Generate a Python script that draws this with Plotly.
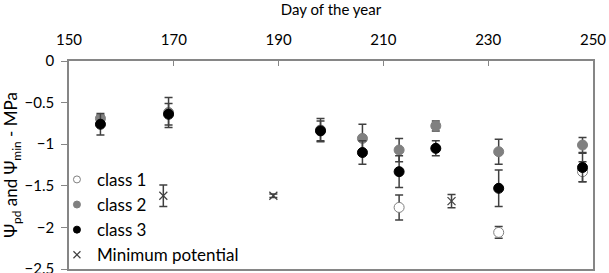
import plotly.graph_objects as go

days = [156, 169, 198, 206, 213, 220, 232, 248]
class2 = [-0.69, -0.62, -0.83, -0.93, -1.07, -0.78, -1.09, -1.01]
class2_err = [0.04, 0.18, 0.14, 0.17, 0.14, 0.06, 0.15, 0.09]
class3 = [-0.76, -0.64, -0.84, -1.10, -1.33, -1.05, -1.53, -1.28]
class3_err = [0.13, 0.13, 0.12, 0.14, 0.19, 0.09, 0.22, 0.17]
class1_days = [213, 232, 248]
class1 = [-1.76, -2.06, -1.33]
class1_err = [0.15, 0.07, 0.12]
min_days = [168, 189, 223]
min_pot = [-1.62, -1.62, -1.685]
min_err = [0.13, 0.02, 0.08]

FONT = "Lato, Open Sans, sans-serif"
ERRC = "#404040"

def eb(arr):
    return dict(type="data", array=arr, visible=True, color=ERRC, thickness=1.5, width=4)

styles = {
    "class 1": dict(symbol="circle", color="white", line=dict(color="#7f7f7f", width=1)),
    "class 2": dict(symbol="circle", color="#808080", line=dict(color="#808080", width=1)),
    "class 3": dict(symbol="circle", color="black", line=dict(color="black", width=1)),
    "Minimum potential": dict(symbol="x-thin", color="#404040", line=dict(color="#404040", width=1.2)),
}

fig = go.Figure()
for name, xs, ys, es, size in [
    ("class 1", class1_days, class1, class1_err, 10),
    ("class 2", days, class2, class2_err, 10),
    ("class 3", days, class3, class3_err, 10),
    ("Minimum potential", min_days, min_pot, min_err, 8),
]:
    fig.add_trace(go.Scatter(x=xs, y=ys, mode="markers", name=name, showlegend=False,
                             marker=dict(size=size, **styles[name]), error_y=eb(es)))
# legend-only entries with smaller symbols
for name in ["class 1", "class 2", "class 3", "Minimum potential"]:
    fig.add_trace(go.Scatter(x=[None], y=[None], mode="markers", name=name,
                             marker=dict(size=7, **styles[name])))

fig.update_layout(
    width=609, height=273,
    margin=dict(l=69, r=16, t=61, b=0),
    paper_bgcolor="white", plot_bgcolor="white",
    font=dict(family=FONT, size=15, color="black"),
    showlegend=True,
    legend=dict(x=-0.023, y=0.515, xanchor="left", yanchor="top",
                bgcolor="rgba(0,0,0,0)", font=dict(size=17), tracegroupgap=0,
                itemwidth=30),
)
fig.update_xaxes(range=[150, 250], dtick=20, tick0=150, side="top", automargin=False,
                 title=dict(text="Day of the year", font=dict(size=15), standoff=12),
                 showline=True, linecolor="#868686", linewidth=1.5, mirror=True,
                 ticks="inside", ticklen=5, tickcolor="#868686", ticklabelstandoff=8,
                 ticklabeloverflow="allow",
                 showgrid=False, zeroline=False)
fig.update_yaxes(range=[-2.5, 0], dtick=0.5, automargin=False,
                 title=dict(text="Ψ<sub>pd</sub> and Ψ<sub>min</sub> - MPa", font=dict(size=17), standoff=8),
                 showline=True, linecolor="#868686", linewidth=1.5, mirror=True,
                 ticks="outside", ticklen=6, tickcolor="#868686", ticklabelstandoff=4,
                 ticklabeloverflow="allow",
                 showgrid=False, zeroline=False)

fig.write_html("out.html", config={"displayModeBar": False},
               post_script="document.body.style.margin='0';")
